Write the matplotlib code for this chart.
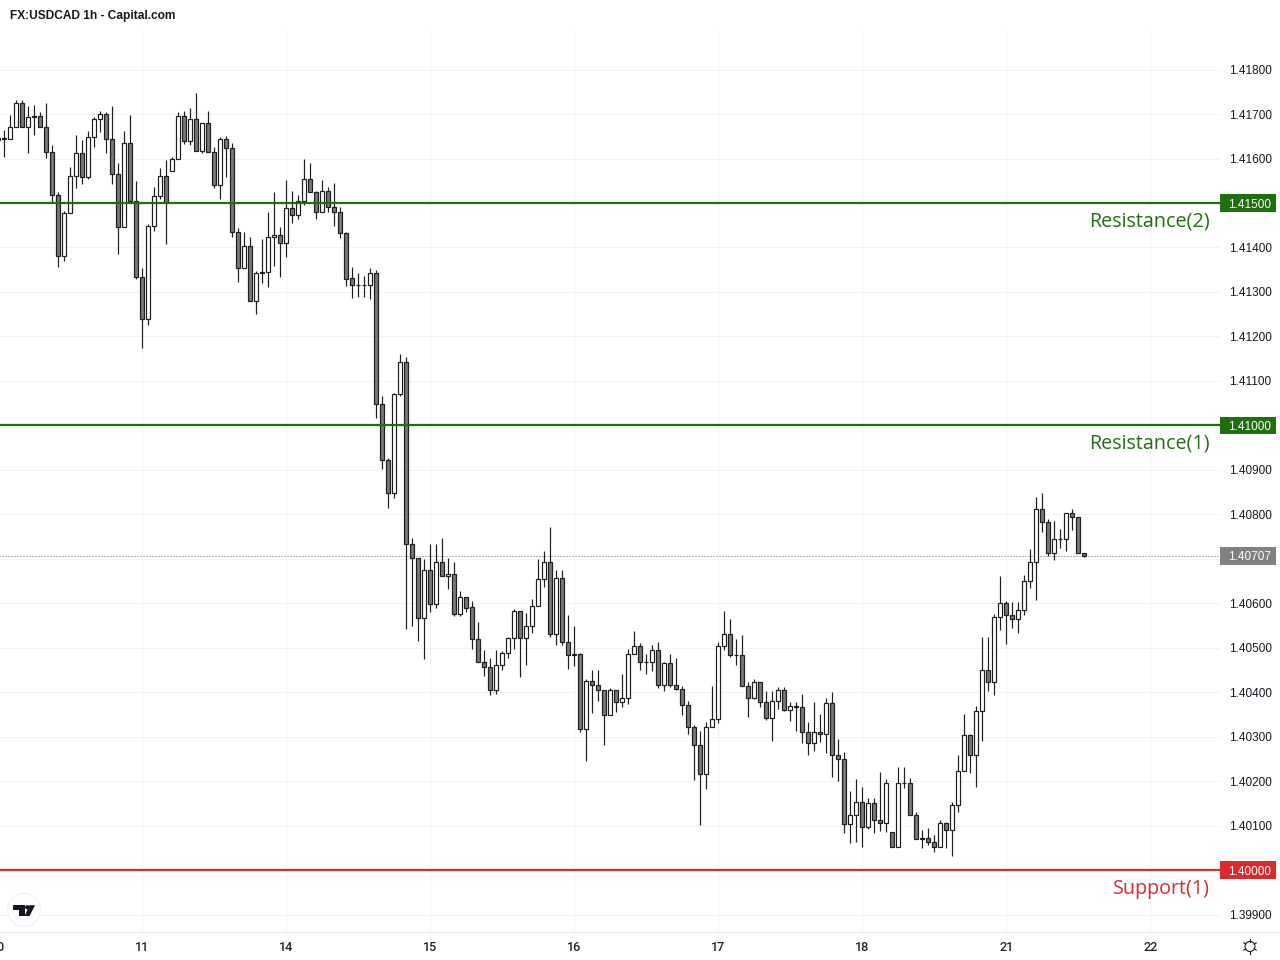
import matplotlib
matplotlib.use("Agg")
import numpy as np
import matplotlib.pyplot as plt
from matplotlib.patches import Circle, Polygon, Rectangle
from matplotlib.transforms import blended_transform_factory

# hourly candles
opens = [1.41642,1.41645,1.41645,1.41670,1.41724,1.41670,1.41695,1.41695,1.41672,1.41614,
         1.41517,1.41380,1.41477,1.41560,1.41612,1.41558,1.41648,1.41688,1.41700,1.41645,
         1.41565,1.41445,1.41634,1.41505,1.41333,1.41240,1.41448,1.41515,1.41560,1.41571,
         1.41600,1.41695,1.41639,1.41688,1.41616,1.41679,1.41614,1.41540,1.41643,1.41623,
         1.41434,1.41353,1.41403,1.41279,1.41342,1.41346,1.41423,1.41429,1.41411,1.41488,
         1.41474,1.41504,1.41553,1.41524,1.41479,1.41528,1.41492,1.41479,1.41432,1.41331,
         1.41315,1.41315,1.41315,1.41342,1.41047,1.40923,1.40849,1.41070,1.41142,1.40734,
         1.40701,1.40568,1.40676,1.40599,1.40692,1.40662,1.40667,1.40577,1.40615,1.40591,
         1.40519,1.40469,1.40456,1.40406,1.40462,1.40489,1.40523,1.40582,1.40523,1.40550,
         1.40593,1.40654,1.40692,1.40532,1.40658,1.40514,1.40485,1.40485,1.40318,1.40426,
         1.40417,1.40406,1.40348,1.40406,1.40379,1.40388,1.40487,1.40503,1.40467,1.40467,
         1.40496,1.40417,1.40465,1.40417,1.40408,1.40372,1.40323,1.40282,1.40217,1.40323,
         1.40341,1.40503,1.40532,1.40483,1.40483,1.40413,1.40386,1.40422,1.40379,1.40343,
         1.40381,1.40406,1.40361,1.40370,1.40366,1.40310,1.40287,1.40310,1.40307,1.40375,
         1.40260,1.40251,1.40103,1.40125,1.40154,1.40096,1.40152,1.40112,1.40105,1.40085,
         1.40053,1.40195,1.40195,1.40125,1.40072,1.40073,1.40064,1.40051,1.40105,1.40091,
         1.40147,1.40224,1.40305,1.40258,1.40357,1.40451,1.40422,1.40570,1.40600,1.40573,
         1.40564,1.40586,1.40651,1.40692,1.40813,1.40782,1.40714,1.40744,1.40744,1.40804,
         1.40793,1.40714]
closes = [1.41646,1.41646,1.41670,1.41724,1.41670,1.41693,1.41693,1.41672,1.41614,1.41517,
          1.41380,1.41477,1.41560,1.41612,1.41558,1.41648,1.41688,1.41700,1.41645,1.41565,
          1.41445,1.41634,1.41505,1.41333,1.41240,1.41448,1.41515,1.41560,1.41503,1.41600,
          1.41695,1.41639,1.41688,1.41616,1.41679,1.41614,1.41540,1.41643,1.41623,1.41434,
          1.41353,1.41403,1.41279,1.41342,1.41346,1.41423,1.41429,1.41411,1.41488,1.41474,
          1.41504,1.41553,1.41524,1.41479,1.41528,1.41492,1.41479,1.41432,1.41330,1.41315,
          1.41315,1.41315,1.41342,1.41047,1.40923,1.40849,1.41070,1.41142,1.40734,1.40701,
          1.40568,1.40676,1.40599,1.40692,1.40662,1.40667,1.40577,1.40615,1.40590,1.40519,
          1.40469,1.40456,1.40406,1.40462,1.40489,1.40523,1.40582,1.40523,1.40550,1.40593,
          1.40654,1.40692,1.40532,1.40658,1.40514,1.40483,1.40483,1.40318,1.40426,1.40417,
          1.40406,1.40348,1.40406,1.40379,1.40388,1.40487,1.40503,1.40467,1.40467,1.40496,
          1.40417,1.40465,1.40417,1.40408,1.40372,1.40323,1.40282,1.40217,1.40323,1.40341,
          1.40503,1.40532,1.40483,1.40483,1.40413,1.40386,1.40422,1.40379,1.40343,1.40381,
          1.40406,1.40361,1.40370,1.40366,1.40310,1.40287,1.40310,1.40307,1.40375,1.40260,
          1.40251,1.40103,1.40125,1.40154,1.40096,1.40152,1.40112,1.40105,1.40195,1.40053,
          1.40195,1.40195,1.40125,1.40071,1.40071,1.40064,1.40051,1.40105,1.40091,1.40147,
          1.40224,1.40305,1.40258,1.40357,1.40451,1.40422,1.40570,1.40600,1.40573,1.40564,
          1.40586,1.40651,1.40692,1.40813,1.40782,1.40714,1.40744,1.40744,1.40804,1.40793,
          1.40714,1.40707]
highs = [1.41653,1.41664,1.41698,1.41732,1.41732,1.41718,1.41720,1.41704,1.41724,1.41630,
         1.41524,1.41483,1.41580,1.41654,1.41642,1.41663,1.41693,1.41707,1.41704,1.41718,
         1.41591,1.41663,1.41698,1.41549,1.41354,1.41452,1.41535,1.41578,1.41597,1.41603,
         1.41704,1.41707,1.41713,1.41747,1.41681,1.41707,1.41627,1.41648,1.41650,1.41636,
         1.41443,1.41434,1.41423,1.41347,1.41419,1.41480,1.41524,1.41447,1.41551,1.41526,
         1.41519,1.41598,1.41591,1.41526,1.41551,1.41537,1.41544,1.41490,1.41434,1.41357,
         1.41342,1.41335,1.41355,1.41349,1.41067,1.40926,1.41072,1.41160,1.41153,1.40746,
         1.40701,1.40699,1.40733,1.40734,1.40746,1.40703,1.40694,1.40627,1.40615,1.40605,
         1.40557,1.40496,1.40476,1.40496,1.40492,1.40525,1.40588,1.40582,1.40579,1.40609,
         1.40699,1.40717,1.40771,1.40676,1.40676,1.40573,1.40550,1.40489,1.40429,1.40449,
         1.40451,1.40406,1.40410,1.40406,1.40440,1.40498,1.40537,1.40510,1.40485,1.40507,
         1.40514,1.40467,1.40487,1.40478,1.40413,1.40381,1.40327,1.40314,1.40334,1.40415,
         1.40512,1.40582,1.40564,1.40519,1.40528,1.40422,1.40429,1.40422,1.40402,1.40402,
         1.40411,1.40411,1.40379,1.40377,1.40397,1.40334,1.40379,1.40352,1.40386,1.40400,
         1.40294,1.40265,1.40177,1.40204,1.40186,1.40163,1.40163,1.40220,1.40204,1.40085,
         1.40231,1.40231,1.40208,1.40130,1.40091,1.40094,1.40079,1.40112,1.40109,1.40154,
         1.40260,1.40351,1.40307,1.40368,1.40524,1.40524,1.40577,1.40661,1.40606,1.40602,
         1.40604,1.40663,1.40721,1.40840,1.40849,1.40789,1.40784,1.40768,1.40804,1.40811,
         1.40795,1.40714]
lows = [1.41634,1.41604,1.41645,1.41670,1.41670,1.41613,1.41653,1.41672,1.41602,1.41501,
        1.41357,1.41370,1.41477,1.41534,1.41543,1.41555,1.41626,1.41660,1.41613,1.41543,
        1.41386,1.41445,1.41499,1.41330,1.41174,1.41225,1.41438,1.41509,1.41408,1.41571,
        1.41600,1.41633,1.41630,1.41616,1.41613,1.41614,1.41534,1.41509,1.41559,1.41424,
        1.41323,1.41353,1.41279,1.41251,1.41320,1.41312,1.41359,1.41334,1.41379,1.41456,
        1.41464,1.41495,1.41524,1.41463,1.41479,1.41480,1.41449,1.41422,1.41313,1.41287,
        1.41288,1.41288,1.41285,1.41017,1.40902,1.40815,1.40837,1.41067,1.40543,1.40549,
        1.40515,1.40474,1.40581,1.40589,1.40662,1.40632,1.40572,1.40572,1.40581,1.40497,
        1.40467,1.40437,1.40394,1.40396,1.40449,1.40476,1.40498,1.40435,1.40462,1.40534,
        1.40593,1.40636,1.40524,1.40507,1.40507,1.40453,1.40459,1.40311,1.40246,1.40354,
        1.40381,1.40282,1.40348,1.40356,1.40367,1.40374,1.40487,1.40450,1.40441,1.40447,
        1.40410,1.40403,1.40412,1.40406,1.40349,1.40306,1.40203,1.40102,1.40183,1.40323,
        1.40330,1.40495,1.40480,1.40462,1.40413,1.40345,1.40384,1.40367,1.40338,1.40291,
        1.40363,1.40359,1.40336,1.40314,1.40287,1.40258,1.40268,1.40289,1.40263,1.40210,
        1.40201,1.40084,1.40061,1.40064,1.40052,1.40093,1.40084,1.40088,1.40086,1.40053,
        1.40053,1.40184,1.40125,1.40071,1.40050,1.40057,1.40041,1.40051,1.40050,1.40032,
        1.40131,1.40222,1.40219,1.40187,1.40291,1.40403,1.40394,1.40540,1.40509,1.40545,
        1.40534,1.40574,1.40635,1.40608,1.40761,1.40707,1.40698,1.40725,1.40718,1.40765,
        1.40714,1.40705]

day_ticks = [0, 24, 48, 72, 96, 120, 144, 168, 192]
day_labels = ["10", "11", "14", "15", "16", "17", "18", "21", "22"]
price_ticks = [1.399, 1.400, 1.401, 1.402, 1.403, 1.404, 1.405, 1.406, 1.407, 1.408,
               1.409, 1.410, 1.411, 1.412, 1.413, 1.414, 1.415, 1.416, 1.417, 1.418]
levels = [1.415, 1.410, 1.400]
level_names = ["Resistance(2)", "Resistance(1)", "Support(1)"]
level_colors = ["#1f6f10", "#1f6f10", "#d92b2b"]
last_price = 1.40707
hidden_ticks = levels + [1.407]  # covered by the price boxes

plt.rcParams["font.family"] = ["Liberation Sans", "DejaVu Sans"]
W, H = 1280, 960
PX = 0.72  # one pixel in points at dpi 100
AX_W = 1221.7  # axes run from x=-1.7 so the first day tick still counts as in view

fig = plt.figure(figsize=(W / 100, H / 100), dpi=100, facecolor="white")
ax = fig.add_axes([-1.7 / W, (H - 932) / H, AX_W / W, (932 - 30) / H])

x = np.arange(len(opens))
o, c, h, l = map(np.array, (opens, closes, highs, lows))
up = c >= o

ax.vlines(x, l, h, color="#1e1e1e", lw=1.2 * PX, zorder=3)
ax.bar(x, np.abs(c - o), bottom=np.minimum(o, c), width=0.6,
       color=np.where(up, "#ffffff", "#787878"), edgecolor="#1e1e1e",
       linewidth=1.2 * PX, zorder=4)

ax.set_xticks(day_ticks)
ax.set_xticklabels(day_labels, fontsize=9, color="#1c2030", fontweight="medium",
                   family=["Roboto", "DejaVu Sans"])
ax.set_yticks(price_ticks)
ax.set_yticklabels(["" if round(p, 3) in hidden_ticks else f"{p:.5f}" for p in price_ticks],
                   fontsize=8.5, color="#131722")
ax.set_xlim(0, 203.62)
ax.set_ylim(1.39861, 1.41889)
ax.yaxis.tick_right()
ax.tick_params(axis="both", length=0)
ax.tick_params(axis="x", pad=6.3)
ax.tick_params(axis="y", pad=6.2)
ax.grid(True, color="#f0f2f6", lw=1 * PX, zorder=0)
ax.set_axisbelow(True)
for s in ("top", "left", "right"):
    ax.spines[s].set_visible(False)
ax.spines["bottom"].set_color("#e0e3eb")
ax.spines["bottom"].set_linewidth(1 * PX)

# y in prices, x in axes fractions, for the boxes on the price scale
tr = blended_transform_factory(ax.transAxes, ax.transData)
box_w = 56 / AX_W
box_h = 0.0004


def price_box(price, label, color):
    ax.add_patch(Rectangle((1.0, price - box_h / 2), box_w, box_h, transform=tr,
                           facecolor=color, edgecolor="none", clip_on=False, zorder=6))
    ax.text(1.0 + 30 / AX_W, price, label, transform=tr, color="white", fontsize=8.5,
            ha="center", va="center_baseline", clip_on=False, zorder=7)


for lev, name, col in zip(levels, level_names, level_colors):
    ax.axhline(lev, color=col, lw=2.2 * PX, zorder=5)
    price_box(lev, f"{lev:.5f}", col)
    ax.annotate(name, xy=(1211.7 / AX_W, lev), xycoords=tr, xytext=(0, -18.5),
                textcoords="offset pixels", ha="right", va="center", color=col,
                fontsize=14.2, family=["Open Sans", "DejaVu Sans"], zorder=6)

ax.axhline(last_price, color="#6a6a6a", lw=1 * PX, ls=(0, (1, 2)), zorder=2)
price_box(last_price, f"{last_price:.5f}", "#808080")

# header, logo and settings icon live on a pixel overlay
ov = fig.add_axes([0, 0, 1, 1], facecolor="none")
ov.set_xlim(0, W)
ov.set_ylim(H, 0)
ov.axis("off")
ov.text(10, 15.5, "FX:USDCAD 1h - Capital.com", fontsize=8.6, fontweight="bold",
        color="#131722", va="center", ha="left")
ov.plot([1222, 1280], [932, 932], color="#e0e3eb", lw=1 * PX)

ov.add_patch(Circle((24, 910), 16.5, facecolor="white", edgecolor="#eceef2", lw=1 * PX))
ov.add_patch(Polygon([(13, 905.2), (24.5, 905.2), (24.5, 916), (18.5, 916), (18.5, 909.6), (13, 909.6)],
                     facecolor="#131722", edgecolor="none"))
ov.add_patch(Circle((27.3, 907.3), 2.2, facecolor="#131722", edgecolor="none"))
ov.add_patch(Polygon([(29.6, 905.2), (35, 905.2), (29.6, 916), (24.6, 916)],
                     facecolor="#131722", edgecolor="none"))

ov.add_patch(Circle((1250, 946.5), 5, facecolor="white", edgecolor="#131722", lw=1.1 * PX))
for ang in np.arange(0, 360, 60) + 30:
    a = np.deg2rad(ang)
    ov.plot([1250 + 4.8 * np.cos(a), 1250 + 7.2 * np.cos(a)],
            [946.5 + 4.8 * np.sin(a), 946.5 + 7.2 * np.sin(a)], color="#131722", lw=1.1 * PX)

fig.savefig("out.png", dpi=100, facecolor="white")
